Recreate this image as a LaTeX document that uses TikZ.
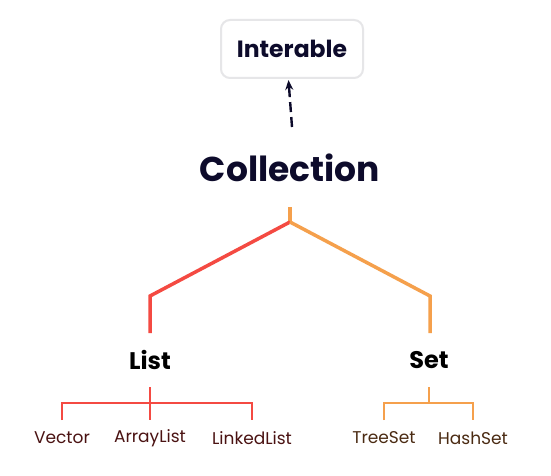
\documentclass[tikz,border=0pt]{standalone}
\usepackage{fontspec}
\setmainfont{Poppins}
\usetikzlibrary{arrows.meta}
\definecolor{navy}{HTML}{0D0B2B}
\definecolor{cred}{HTML}{F44A42}
\definecolor{corange}{HTML}{F5A04C}
\definecolor{boxgray}{HTML}{E6E6E8}
\definecolor{lred}{HTML}{4A1212}
\definecolor{lbrown}{HTML}{4A2A12}
\tikzset{
  boxnode/.style={draw=boxgray,line width=2pt,rounded corners=9pt,minimum width=142pt,minimum height=58pt,inner sep=0pt,font=\fontsize{23.5}{28}\selectfont\bfseries,text=navy},
  titlenode/.style={inner sep=0pt,font=\fontsize{34.5}{40}\selectfont\bfseries,text=navy},
  midnode/.style={inner sep=0pt,font=\fontsize{24}{28}\selectfont\bfseries,text=black},
  leafred/.style={inner sep=0pt,font=\fontsize{17}{20}\selectfont,text=lred},
  leaforange/.style={inner sep=0pt,font=\fontsize{17}{20}\selectfont,text=lbrown},
  thickred/.style={draw=cred,line width=3.5pt},
  thickorange/.style={draw=corange,line width=3.5pt},
  thinred/.style={draw=cred,line width=2.2pt},
  thinorange/.style={draw=corange,line width=2.2pt},
  dasharrow/.style={draw=navy,line width=2.4pt,dash pattern=on 10pt off 5pt,-{Stealth[length=10pt,width=8pt]}}
}
\begin{document}
\begin{tikzpicture}[x=1pt,y=-1pt]
\useasboundingbox[fill=white] (0,0) rectangle (551,476);
\node[boxnode] (iter) at (292,49) {Interable};
\node[titlenode] (coll) at (290,168) {Collection};
\node[midnode] (list) at (150,360) {List};
\node[midnode] (set) at (429,360) {Set};
\node[leafred] (vec) at (62,438) {Vector};
\node[leafred] (arr) at (150,438) {ArrayList};
\node[leafred] (lnk) at (252,438) {LinkedList};
\node[leaforange] (tree) at (384,438) {TreeSet};
\node[leaforange] (hash) at (473,438) {HashSet};
\coordinate (dstart) at (292,127);
\coordinate (dend) at (288.5,80);
\coordinate (root) at (290,222);
\coordinate (stub) at (290,207);
\coordinate (lb) at (150,296);
\coordinate (lt) at (150,333);
\coordinate (sb) at (430,296);
\coordinate (st) at (430,333);
\coordinate (lj) at (150,403);
\coordinate (sj) at (429,403);
\draw[dasharrow] (dstart) -- (dend);
\draw[thickorange] (stub) -- (root);
\draw[thickred,line join=miter] (root) -- (lb) -- (lt);
\draw[thickorange,line join=miter] (root) -- (sb) -- (st);
\draw[thinred] (150,387) -- (150,420);
\draw[thinred] (vec.north |- 0,420) -- (vec.north |- lj) -- (lnk.north |- lj) -- (lnk.north |- 0,420);
\draw[thinorange] (429,387) -- (sj);
\draw[thinorange] (tree.north |- 0,420) -- (tree.north |- sj) -- (hash.north |- sj) -- (hash.north |- 0,420);
\end{tikzpicture}
\end{document}
